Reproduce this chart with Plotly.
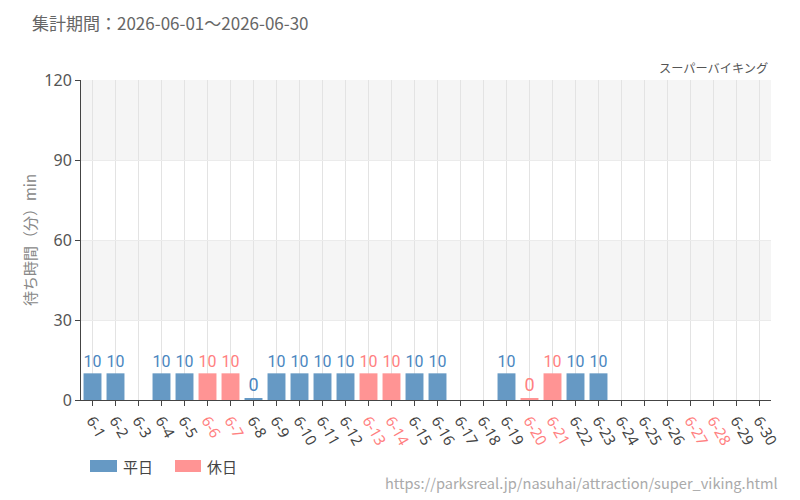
import plotly.graph_objects as go

days = [f"6-{d}" for d in range(1, 31)]
holidays = ["6-6", "6-7", "6-13", "6-14", "6-20", "6-21", "6-27", "6-28"]
waits = [10, 10, None, 10, 10, 10, 10, 0, 10, 10, 10, 10, 10, 10, 10, 10,
         None, None, 10, 0, 10, 10, 10, None, None, None, None, None, None, None]
y_ticks = [0, 30, 60, 90, 120]

BLUE = "#6699c4"
RED = "#ff9494"
BLUE_T = "#4a86c0"
RED_T = "#ff8080"

wk_y = [v if d not in holidays else None for d, v in zip(days, waits)]
ho_y = [v if d in holidays else None for d, v in zip(days, waits)]

def lbl(vals):
    return ["" if v is None else str(v) for v in vals]

fig = go.Figure()
for name, ys, col, tcol in [("平日", wk_y, BLUE, BLUE_T), ("休日", ho_y, RED, RED_T)]:
    fig.add_trace(go.Bar(
        x=days, y=[(v if v is None or v > 0 else 0.6) for v in ys],
        width=0.78, marker=dict(color=col, line=dict(width=0)),
        text=lbl(ys), textposition="outside", cliponaxis=False,
        textfont=dict(family="Roboto", size=18, color=tcol),
        name=name, showlegend=False))

ticktext = [f'<span style="color:{RED_T}">{d}</span>' if d in holidays else d for d in days]

shapes = []
for lo, hi in [(30, 60), (90, 120)]:
    shapes.append(dict(type="rect", xref="paper", yref="y", x0=0, x1=1, y0=lo, y1=hi,
                       fillcolor="#f5f5f5", line=dict(width=0), layer="below"))
# legend swatches
shapes.append(dict(type="rect", xref="paper", yref="paper", x0=(90-81)/690, x1=(117-81)/690,
                   y0=-(460-400)/320, y1=-(472-400)/320, fillcolor=BLUE, line=dict(width=0)))
shapes.append(dict(type="rect", xref="paper", yref="paper", x0=(175-81)/690, x1=(201-81)/690,
                   y0=-(460-400)/320, y1=-(472-400)/320, fillcolor=RED, line=dict(width=0)))

annotations = [
    dict(text="集計期間：2026-06-01～2026-06-30", xref="paper", yref="paper",
         x=(30-81)/690, y=(400-22)/320, xanchor="left", yanchor="middle", showarrow=False,
         font=dict(family="Noto Sans CJK JP", size=17, color="#666")),
    dict(text="スーパーバイキング", xref="paper", yref="paper",
         x=(770-81)/690, y=(400-68)/320, xanchor="right", yanchor="middle", showarrow=False,
         font=dict(family="Noto Sans CJK JP", size=12.2, color="#555")),
    dict(text="平日", xref="paper", yref="paper", x=(121-81)/690, y=-(466-400)/320,
         xanchor="left", yanchor="middle", showarrow=False,
         font=dict(family="Noto Sans CJK JP", size=15, color="#444")),
    dict(text="休日", xref="paper", yref="paper", x=(205-81)/690, y=-(466-400)/320,
         xanchor="left", yanchor="middle", showarrow=False,
         font=dict(family="Noto Sans CJK JP", size=15, color="#444")),
    dict(text="https://parksreal.jp/nasuhai/attraction/super_viking.html", xref="paper", yref="paper",
         x=(780-81)/690, y=-(482-400)/320, xanchor="right", yanchor="middle", showarrow=False,
         font=dict(family="Noto Sans CJK JP", size=14.6, color="#aaa")),
]

fig.update_layout(
    width=800, height=500, margin=dict(l=81, r=29, t=80, b=100),
    paper_bgcolor="white", plot_bgcolor="white",
    barmode="overlay", shapes=shapes, annotations=annotations,
    font=dict(family="Noto Sans CJK JP", color="#444"),
)
fig.update_xaxes(type="category", categoryorder="array", categoryarray=days,
                 tickvals=days, ticktext=ticktext, tickangle=60,
                 tickfont=dict(family="Noto Sans", size=15, color="#444"),
                 showgrid=True, gridcolor="#e3e3e3", showline=True, linecolor="#444",
                 ticks="outside", ticklen=5, tickcolor="#444", range=[-0.5, 29.5])
fig.update_yaxes(range=[0, 120], tickvals=y_ticks, showgrid=True, gridcolor="#ebebeb",
                 showline=True, linecolor="#444", ticks="outside", ticklen=5, tickcolor="#444",
                 tickfont=dict(family="Noto Sans", size=16, color="#555"), zeroline=False,
                 title=dict(text="待ち時間（分）min", font=dict(family="Noto Sans CJK JP", size=15, color="#888"),
                            standoff=4))
fig.write_html("out.html")
